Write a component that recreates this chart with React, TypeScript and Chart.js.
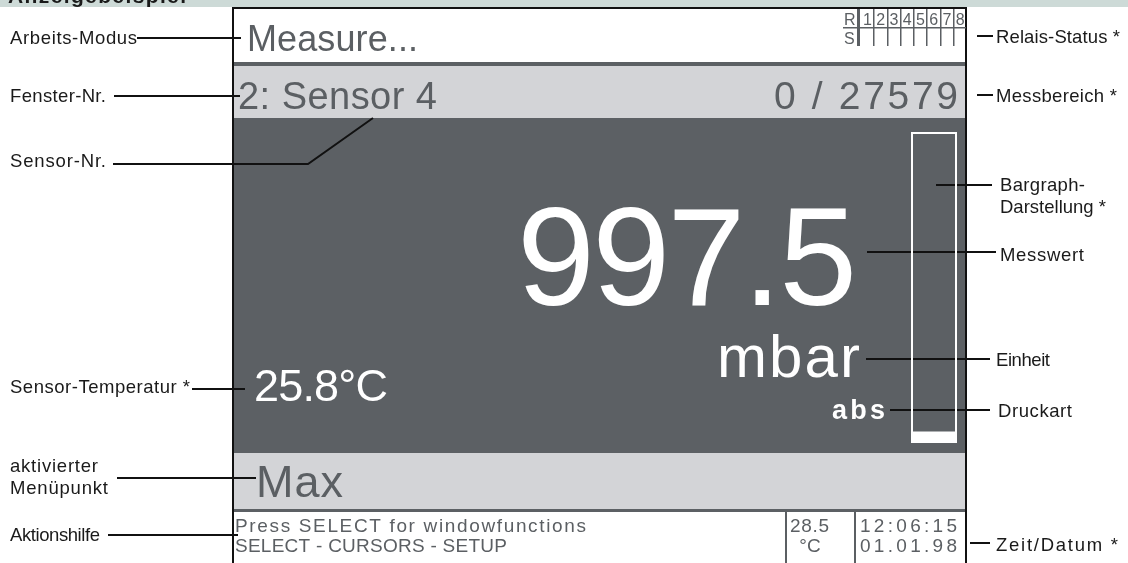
import React, { useEffect, useRef } from "react";
import { Chart, registerables } from "chart.js";

Chart.register(...registerables);

// ---- data ----
const titleText = "Anzeigebeispiel";
const barCategories = ["Messwert"];
const barValues = [997.5];
const rangeMin = 0;
const rangeMax = 27579;
const modeText = "Measure...";
const windowText = "2: Sensor 4";
const rangeText = `${rangeMin} / ${rangeMax}`;
const valueText = "997.5";
const unitText = "mbar";
const pressureType = "abs";
const sensorTemp = "25.8°C";
const menuItem = "Max";
const helpLines = ["Press SELECT for windowfunctions", "SELECT - CURSORS - SETUP"];
const deviceTemp = ["28.5", "°C"];
const dateTime = ["12:06:15", "01.01.98"];
const relayRowLabels = ["R", "S"];
const relayNumbers = ["1", "2", "3", "4", "5", "6", "7", "8"];
const leftLabels = ["Arbeits-Modus", "Fenster-Nr.", "Sensor-Nr.", "Sensor-Temperatur *", "aktivierter", "Menüpunkt", "Aktionshilfe"];
const rightLabels = ["Relais-Status *", "Messbereich *", "Bargraph-", "Darstellung *", "Messwert", "Einheit", "Druckart", "Zeit/Datum *"];

const W = 1128;
const H = 563;
const FONT = '"Liberation Sans", Arial, sans-serif';
const LCD_GREY = "#5b5f63";
const DARK = "#5c6064";
const LIGHT = "#d3d4d7";
const BANNER = "#cddad7";

function fit(ctx: CanvasRenderingContext2D, s: string, x: number, y: number, size: number, color: string, target?: number, bold = false, align: "left" | "right" | "center" = "left") {
  ctx.font = `${bold ? "bold " : ""}${size}px ${FONT}`;
  ctx.fillStyle = color;
  ctx.textAlign = "left";
  ctx.textBaseline = "alphabetic";
  (ctx as any).letterSpacing = "0px";
  const w = ctx.measureText(s).width;
  let ls = 0;
  let tw = w;
  if (target !== undefined && s.length > 1) {
    ls = (target - w) / (s.length - 1);
    ls = Math.max(-3, Math.min(8, ls));
    tw = w + ls * (s.length - 1);
  }
  (ctx as any).letterSpacing = `${ls}px`;
  let lx = x;
  if (align === "right") lx = x - tw;
  if (align === "center") lx = x - tw / 2;
  ctx.fillText(s, lx, y);
  (ctx as any).letterSpacing = "0px";
}

function line(ctx: CanvasRenderingContext2D, pts: number[][], color = "#111", lw = 2) {
  ctx.strokeStyle = color;
  ctx.lineWidth = lw;
  ctx.beginPath();
  ctx.moveTo(pts[0][0], pts[0][1]);
  for (let i = 1; i < pts.length; i++) ctx.lineTo(pts[i][0], pts[i][1]);
  ctx.stroke();
}

const displayPlugin = {
  id: "display",
  beforeDraw(chart: any) {
    const ctx: CanvasRenderingContext2D = chart.ctx;
    ctx.save();
    // page
    ctx.fillStyle = "#ffffff";
    ctx.fillRect(0, 0, W, H);
    // banner
    ctx.fillStyle = BANNER;
    ctx.fillRect(0, 0, W, 7);
    ctx.save();
    ctx.beginPath();
    ctx.rect(0, 0, W, 7);
    ctx.clip();
    fit(ctx, titleText, 8, 3, 21, "#1a1a1a", 178, true);
    ctx.restore();

    // display rows
    const L = 234, R = 965;
    ctx.fillStyle = "#ffffff";
    ctx.fillRect(L, 9, R - L, 54);
    ctx.fillStyle = DARK;
    ctx.fillRect(L, 62, R - L, 4);
    ctx.fillStyle = LIGHT;
    ctx.fillRect(L, 66, R - L, 52);
    ctx.fillStyle = DARK;
    ctx.fillRect(L, 118, R - L, 335);
    ctx.fillStyle = LIGHT;
    ctx.fillRect(L, 453, R - L, 56);
    ctx.fillStyle = DARK;
    ctx.fillRect(L, 509, R - L, 3);
    ctx.fillStyle = "#ffffff";
    ctx.fillRect(L, 512, R - L, H - 512);

    // frame
    ctx.fillStyle = "#111";
    ctx.fillRect(232, 7, 2, H - 7);
    ctx.fillRect(965, 7, 2, H - 7);
    ctx.fillRect(232, 7, 735, 2);

    // relay grid
    const gx0 = 857, gx1 = 966, gy0 = 9, gy1 = 46;
    fit(ctx, relayRowLabels[0], 844, 25, 16, LCD_GREY);
    fit(ctx, relayRowLabels[1], 844, 44, 16, LCD_GREY);
    ctx.fillStyle = LCD_GREY;
    ctx.fillRect(gx0, gy0, 3, gy1 - gy0);
    ctx.fillRect(843, 27, gx1 - 843, 1.5);
    const pitch = (gx1 - gx0 - 3) / relayNumbers.length;
    relayNumbers.forEach((n, i) => {
      const cx = gx0 + 3 + pitch * i;
      if (i > 0) ctx.fillRect(Math.round(cx), gy0, 1.5, gy1 - gy0);
      fit(ctx, n, cx + 3, 25, 16, LCD_GREY);
    });

    // LCD texts
    fit(ctx, modeText, 247, 51, 36, LCD_GREY, 171);
    fit(ctx, windowText, 238, 109, 38, LCD_GREY, 199);
    fit(ctx, rangeText, 958, 109, 39, LCD_GREY, 184, false, "right");
    fit(ctx, valueText, 517, 305, 140, "#ffffff", 340);
    fit(ctx, unitText, 717, 377, 60, "#ffffff", 143);
    fit(ctx, pressureType, 832, 419, 27, "#ffffff", 53, true);
    fit(ctx, sensorTemp, 254, 401, 45, "#ffffff", 134);
    fit(ctx, menuItem, 256, 497, 45, LCD_GREY, 87);
    fit(ctx, helpLines[0], 235, 532, 19, LCD_GREY, 351);
    fit(ctx, helpLines[1], 235, 552, 19, LCD_GREY, 272);
    fit(ctx, deviceTemp[0], 790, 532, 19, LCD_GREY, 39);
    fit(ctx, deviceTemp[1], 810, 552, 19, LCD_GREY, undefined, false, "center");
    fit(ctx, dateTime[0], 860, 532, 19, LCD_GREY, 97);
    fit(ctx, dateTime[1], 860, 552, 19, LCD_GREY, 97);
    ctx.fillStyle = LCD_GREY;
    ctx.fillRect(785, 512, 2, H - 512);
    ctx.fillRect(854, 512, 2, H - 512);

    // annotation labels
    const ls = 18.5;
    const lc = "#1a1a1a";
    fit(ctx, leftLabels[0], 10, 44, ls, lc, 127);
    fit(ctx, leftLabels[1], 10, 102, ls, lc, 96);
    fit(ctx, leftLabels[2], 10, 167, ls, lc, 96);
    fit(ctx, leftLabels[3], 10, 393, ls, lc, 180);
    fit(ctx, leftLabels[4], 10, 472, ls, lc, 88);
    fit(ctx, leftLabels[5], 10, 494, ls, lc, 98);
    fit(ctx, leftLabels[6], 10, 541, ls, lc, 90);

    fit(ctx, rightLabels[0], 996, 43, ls, lc, 124);
    fit(ctx, rightLabels[1], 996, 102, ls, lc, 121);
    fit(ctx, rightLabels[2], 1000, 191, ls, lc, 85);
    fit(ctx, rightLabels[3], 1000, 213, ls, lc, 106);
    fit(ctx, rightLabels[4], 1000, 261, ls, lc, 84);
    fit(ctx, rightLabels[5], 996, 366, ls, lc, 54);
    fit(ctx, rightLabels[6], 998, 417, ls, lc, 74);
    fit(ctx, rightLabels[7], 996, 551, ls, lc, 122);

    // leader lines
    line(ctx, [[137, 38], [241, 38]]);
    line(ctx, [[114, 96], [240, 96]]);
    line(ctx, [[113, 164], [308, 164], [373, 118]]);
    line(ctx, [[192, 389], [245, 389]]);
    line(ctx, [[117, 478], [256, 478]]);
    line(ctx, [[108, 535], [238, 535]]);
    line(ctx, [[977, 36], [993, 36]]);
    line(ctx, [[977, 95], [993, 95]]);
    line(ctx, [[936, 185], [992, 185]]);
    line(ctx, [[867, 252], [996, 252]]);
    line(ctx, [[866, 359], [990, 359]]);
    line(ctx, [[890, 410], [990, 410]]);
    line(ctx, [[970, 543], [990, 543]]);
    ctx.restore();
  },
  afterDatasetsDraw(chart: any) {
    const ctx: CanvasRenderingContext2D = chart.ctx;
    const a = chart.chartArea;
    ctx.save();
    ctx.strokeStyle = "#ffffff";
    ctx.lineWidth = 2;
    ctx.strokeRect(a.left + 1, a.top + 1, a.right - a.left - 2, a.bottom - a.top - 2);
    ctx.restore();
  },
};

export default function App() {
  const ref = useRef<HTMLCanvasElement | null>(null);
  useEffect(() => {
    document.body.style.margin = "0";
    if (!ref.current) return;
    const chart = new Chart(ref.current, {
      type: "bar",
      data: {
        labels: barCategories,
        datasets: [
          {
            data: barValues,
            backgroundColor: "#ffffff",
            borderWidth: 0,
            barPercentage: 1,
            categoryPercentage: 1,
          },
        ],
      },
      options: {
        responsive: false,
        animation: false,
        events: [],
        layout: { padding: { left: 911, right: W - 957, top: 132, bottom: H - 443 } },
        plugins: { legend: { display: false }, tooltip: { enabled: false }, title: { display: false } },
        scales: {
          x: { display: false },
          y: { display: false, min: rangeMin, max: rangeMax },
        },
      },
      plugins: [displayPlugin],
    });
    return () => chart.destroy();
  }, []);
  return <canvas ref={ref} width={W} height={H} style={{ display: "block", width: W, height: H }} />;
}
